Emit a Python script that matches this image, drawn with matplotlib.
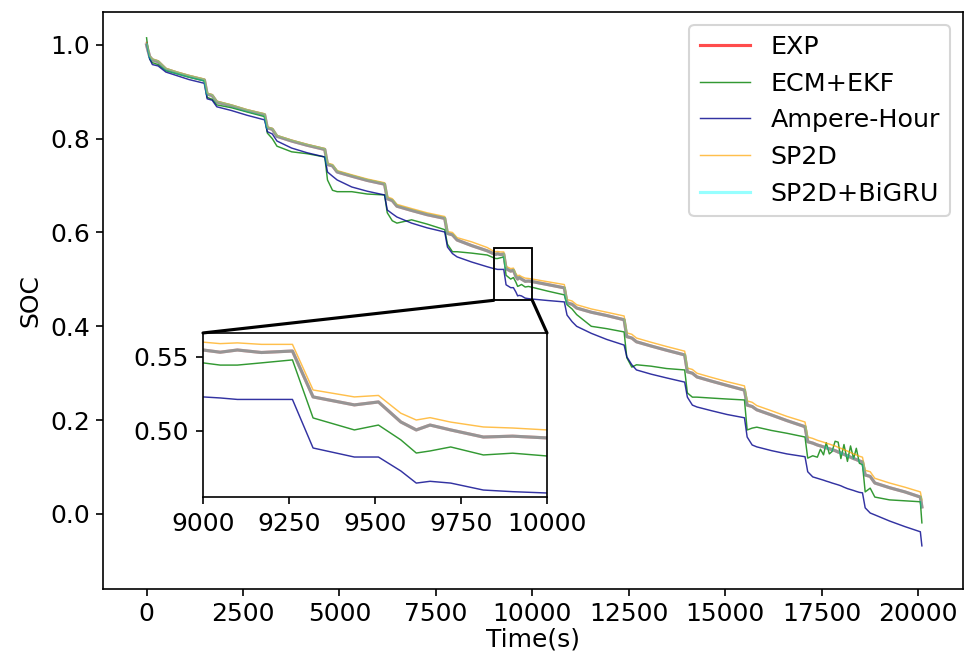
import numpy as np
from matplotlib import pyplot as plt
from matplotlib.patches import Rectangle, ConnectionPatch

plt.rcParams['font.size'] = 12

# time axis (s), shared by all curves
t = [0, 30, 80, 150, 300, 500, 800, 1100,
     1500, 1570, 1700, 1820, 2200, 2600,
     3060, 3130, 3260, 3380, 3760, 4160,
     4620, 4690, 4820, 4940, 5320, 5720,
     6170, 6240, 6370, 6490, 6870, 7270,
     7730, 7800, 7930, 8050, 8430, 8830, 9000, 9050, 9100, 9170,
     9260, 9320, 9440, 9510, 9575, 9620, 9660, 9720, 9815, 9900, 10000, 10400,
     10830, 10900, 11030, 11150, 11530, 11930,
     12380, 12450, 12580, 12700, 13080, 13480,
     13950, 14020, 14150, 14270, 14650, 15050,
     15500, 15570, 15700, 15820, 16200, 16600,
     17070, 17140, 17270, 17390, 17470, 17550, 17620, 17700, 17770, 17850, 17930, 18000, 18080, 18170, 18250, 18330, 18400, 18480,
     18560, 18630, 18760, 18880, 19260, 19660,
     20060, 20100]

soc_exp = [1.0, 0.99, 0.975, 0.968, 0.964, 0.948, 0.94, 0.933,
           0.925, 0.895, 0.892, 0.878, 0.87, 0.86,
           0.851, 0.823, 0.82, 0.805, 0.795, 0.786,
           0.777, 0.745, 0.742, 0.729, 0.72, 0.711,
           0.703, 0.672, 0.668, 0.656, 0.647, 0.638,
           0.630, 0.598, 0.595, 0.584, 0.572, 0.561, 0.5547, 0.5532, 0.5547, 0.5530,
           0.5540, 0.523, 0.5176, 0.5196, 0.5061, 0.5007, 0.504, 0.5007, 0.4959, 0.4965, 0.4953, 0.489,
           0.482, 0.45, 0.447, 0.439, 0.43, 0.423,
           0.414, 0.378, 0.375, 0.367, 0.358, 0.349,
           0.339, 0.303, 0.3, 0.292, 0.283, 0.274,
           0.264, 0.232, 0.229, 0.222, 0.211, 0.199,
           0.186, 0.154, 0.151, 0.147, 0.145, 0.143, 0.141, 0.139, 0.137, 0.135, 0.132, 0.130, 0.127, 0.124, 0.121, 0.118, 0.116, 0.113,
           0.111, 0.083, 0.08, 0.066, 0.056, 0.047,
           0.036, 0.015]

soc_ekf = [1.015, 0.995, 0.97, 0.962, 0.958, 0.945, 0.938, 0.931,
           0.923, 0.888, 0.884, 0.872, 0.866, 0.857,
           0.847, 0.812, 0.80, 0.784, 0.772, 0.768,
           0.761, 0.712, 0.69, 0.687, 0.687, 0.682,
           0.68, 0.642, 0.625, 0.62, 0.627, 0.618,
           0.606, 0.575, 0.559, 0.559, 0.556, 0.552, 0.546, 0.5445, 0.5445, 0.5460,
           0.548, 0.5088, 0.5007, 0.504, 0.494, 0.4851, 0.4865, 0.4892, 0.4838, 0.485, 0.4831, 0.475,
           0.467, 0.446, 0.437, 0.425, 0.40, 0.395,
           0.388, 0.333, 0.313, 0.318, 0.315, 0.31,
           0.307, 0.258, 0.249, 0.249, 0.247, 0.245,
           0.243, 0.179, 0.183, 0.185, 0.178, 0.172,
           0.164, 0.119, 0.124, 0.121, 0.138, 0.126, 0.152, 0.128, 0.133, 0.155, 0.153, 0.118, 0.148, 0.112, 0.145, 0.118, 0.14, 0.108,
           0.105, 0.047, 0.055, 0.036, 0.03, 0.028,
           0.026, -0.019]

soc_ah = [1.005, 0.99, 0.97, 0.958, 0.955, 0.942, 0.934, 0.926,
          0.918, 0.885, 0.882, 0.868, 0.86, 0.85,
          0.84, 0.815, 0.81, 0.795, 0.78, 0.77,
          0.761, 0.729, 0.72, 0.712, 0.697, 0.688,
          0.68, 0.648, 0.64, 0.633, 0.62, 0.61,
          0.601, 0.569, 0.555, 0.548, 0.537, 0.527, 0.523, 0.5223, 0.5213, 0.5213,
          0.5213, 0.4885, 0.4824, 0.4824, 0.473, 0.4648, 0.466, 0.4648, 0.4601, 0.459, 0.4581, 0.455,
          0.452, 0.424, 0.41, 0.40, 0.385, 0.372,
          0.36, 0.335, 0.318, 0.307, 0.298, 0.29,
          0.281, 0.249, 0.232, 0.228, 0.22, 0.212,
          0.205, 0.164, 0.147, 0.143, 0.135, 0.128,
          0.122, 0.09, 0.079, 0.076, 0.074, 0.072, 0.07, 0.068, 0.066, 0.064, 0.062, 0.06, 0.057, 0.054, 0.052, 0.05, 0.048, 0.046,
          0.045, 0.013, 0.002, -0.002, -0.015, -0.027,
          -0.038, -0.068]

soc_sp2d = [1.005, 0.995, 0.976, 0.97, 0.966, 0.95, 0.942, 0.935,
            0.927, 0.897, 0.894, 0.88, 0.872, 0.862,
            0.853, 0.825, 0.822, 0.807, 0.797, 0.788,
            0.779, 0.748, 0.745, 0.732, 0.723, 0.714,
            0.706, 0.676, 0.672, 0.66, 0.651, 0.642,
            0.634, 0.602, 0.6, 0.589, 0.58, 0.568, 0.560, 0.5590, 0.5595, 0.5585,
            0.5585, 0.5277, 0.523, 0.524, 0.512, 0.5074, 0.509, 0.506, 0.5027, 0.502, 0.5007, 0.495,
            0.489, 0.457, 0.454, 0.446, 0.437, 0.43,
            0.422, 0.386, 0.383, 0.375, 0.366, 0.357,
            0.347, 0.311, 0.308, 0.3, 0.291, 0.282,
            0.273, 0.241, 0.238, 0.231, 0.22, 0.208,
            0.196, 0.164, 0.161, 0.157, 0.155, 0.153, 0.151, 0.149, 0.147, 0.145, 0.142, 0.14, 0.137, 0.134, 0.131, 0.128, 0.126, 0.123,
            0.121, 0.093, 0.09, 0.076, 0.066, 0.057,
            0.047, 0.03]

# SP2D+BiGRU lies on top of the measured curve
soc_bigru = list(soc_exp)

fig = plt.figure(figsize=(9.68 / 1.5, 6.53 / 1.5), dpi=150)
ax = fig.add_axes([0.106, 0.098, 0.889, 0.8836])


def draw(a):
    a.plot(t, soc_exp, color='red', alpha=0.7, lw=1.5, label='EXP')
    a.plot(t, soc_ekf, color='green', alpha=0.8, lw=0.7, label='ECM+EKF')
    a.plot(t, soc_ah, color='darkblue', alpha=0.8, lw=0.7, label='Ampere-Hour')
    a.plot(t, soc_sp2d, color='orange', alpha=0.7, lw=0.7, label='SP2D')
    a.plot(t, soc_bigru, color='cyan', alpha=0.41, lw=1.5, label='SP2D+BiGRU')


draw(ax)
ax.set_xlim(-1140, 21170)
ax.set_ylim(-0.160, 1.07)
ax.set_xticks(np.arange(0, 20001, 2500))
ax.tick_params(pad=2.5)
ax.set_xlabel('Time(s)', labelpad=1)
ax.set_ylabel('SOC')
ax.legend(loc='upper right', fontsize=12.2)

# zoomed inset
x0, x1, y0, y1 = 9000, 10000, 0.4554, 0.5662
axin = fig.add_axes([0.2097, 0.2389, 0.3554, 0.2512])
draw(axin)
axin.set_xlim(x0, x1)
axin.set_ylim(y0, y1)
axin.set_xticks([9000, 9250, 9500, 9750, 10000])
axin.set_yticks([0.50, 0.55])

ax.add_patch(Rectangle((x0, y0), x1 - x0, y1 - y0, fill=False, ec='black', lw=0.9, zorder=5))
for xa, xb in [(x0, 0), (x1, 1)]:
    con = ConnectionPatch(xyA=(xa, y0), coordsA=ax.transData, xyB=(xb, 1), coordsB=axin.transAxes,
                          color='black', lw=1.5)
    fig.add_artist(con)

fig.savefig('out.png', dpi=150)
